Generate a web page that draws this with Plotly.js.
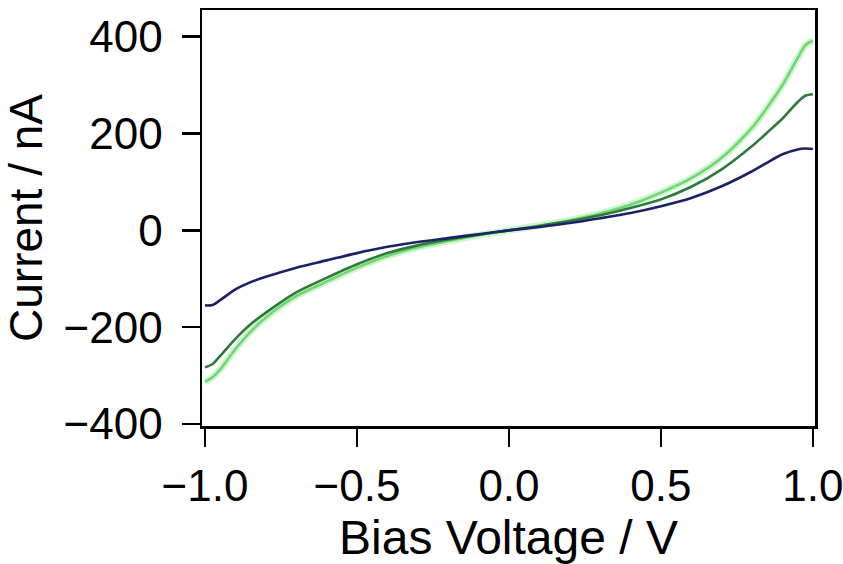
<!DOCTYPE html>
<html>
<head>
<meta charset="utf-8">
<script src="https://cdn.plot.ly/plotly-3.0.1.min.js"></script>
<style>html,body{margin:0;padding:0;background:#fff;}#chart{width:843px;height:564px;}</style>
</head>
<body>
<div id="chart"></div>
<script>
const voltage = [-1.0, -0.975, -0.95, -0.9, -0.85, -0.8, -0.7, -0.6, -0.5, -0.4, -0.3, -0.2, -0.1, 0, 0.1, 0.2, 0.3, 0.4, 0.5, 0.6, 0.7, 0.8, 0.85, 0.9, 0.95, 0.975, 1.0];
const currentBlue = [-155, -154, -144, -122, -107, -96, -77, -62, -47, -34, -24, -16, -8, 0, 7, 15, 25, 36, 50, 67, 91, 122, 140, 157, 167, 169, 168];
const currentDarkGreen = [-283, -276, -259, -224, -194, -170, -128, -98, -70, -47, -31, -19, -9, 0, 9, 19, 31, 46, 64, 90, 126, 174, 202, 231, 265, 278, 281];
const currentLightGreen = [-313, -303, -287, -245, -209, -180, -136, -106, -77, -53, -35, -22, -10, 0, 10, 21, 35, 53, 78, 108, 150, 212, 254, 300, 356, 382, 392];
const xTicks = [-1.0, -0.5, 0.0, 0.5, 1.0];
const xTickText = ['\u22121.0', '\u22120.5', '0.0', '0.5', '1.0'];
const yTicks = [-400, -200, 0, 200, 400];
const yTickText = ['\u2212400', '\u2212200', '0', '200', '400'];

const font = 'Liberation Sans, Arial, Helvetica, sans-serif';
const traces = [
  {x: voltage, y: currentLightGreen, mode: 'lines', line: {color: 'rgba(120,225,120,0.35)', width: 7, shape: 'spline', smoothing: 0.8}, hoverinfo: 'skip'},
  {x: voltage, y: currentLightGreen, mode: 'lines', line: {color: '#72d672', width: 2.6, shape: 'spline', smoothing: 0.8}},
  {x: voltage, y: currentDarkGreen, mode: 'lines', line: {color: '#2f7a3a', width: 2.6, shape: 'spline', smoothing: 0.8}},
  {x: voltage, y: currentBlue, mode: 'lines', line: {color: '#1c2266', width: 2.6, shape: 'spline', smoothing: 0.8}}
];
const layout = {
  width: 843, height: 564,
  margin: {l: 202, r: 28, t: 10, b: 138},
  paper_bgcolor: '#fff', plot_bgcolor: '#fff',
  showlegend: false,
  font: {family: font, color: '#000'},
  xaxis: {
    range: [-1.01, 1.007], tickvals: xTicks, ticktext: xTickText,
    ticks: 'outside', ticklen: 18, tickwidth: 2.5, tickcolor: '#000',
    showline: true, linewidth: 2.5, linecolor: '#000', mirror: true,
    showgrid: false, zeroline: false, ticklabeloverflow: 'allow',
    tickfont: {size: 44, family: font}, ticklabelstandoff: 2,
    title: {text: 'Bias Voltage / V', font: {size: 48, family: font}, standoff: 14}
  },
  yaxis: {
    range: [-404, 455], tickvals: yTicks, ticktext: yTickText,
    ticks: 'outside', ticklen: 18, tickwidth: 2.5, tickcolor: '#000',
    showline: true, linewidth: 2.5, linecolor: '#000', mirror: true,
    showgrid: false, zeroline: false, ticklabeloverflow: 'allow',
    tickfont: {size: 44, family: font}, ticklabelstandoff: 10,
    title: {text: 'Current / nA', font: {size: 46, family: font}, standoff: 14}
  }
};
Plotly.newPlot('chart', traces, layout, {displayModeBar: false, staticPlot: true});
</script>
</body>
</html>
